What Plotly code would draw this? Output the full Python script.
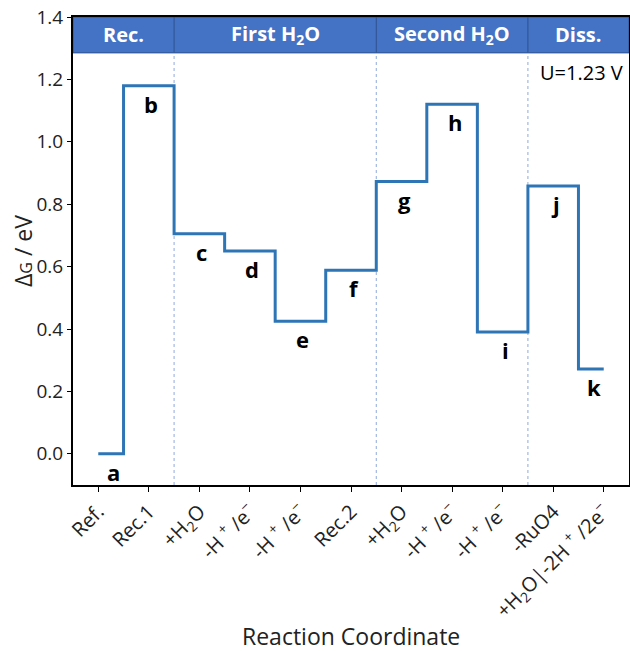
import plotly.graph_objects as go

# Free-energy levels along the reaction pathway (eV)
state_letters = ["a", "b", "c", "d", "e", "f", "g", "h", "i", "j", "k"]
delta_g = [0.0, 1.18, 0.705, 0.65, 0.425, 0.588, 0.873, 1.12, 0.39, 0.858, 0.272]
step_labels = [
    "Ref.",
    "Rec.1",
    "+H<sub>2</sub>O",
    "-H <sup>+</sup> /e<sup>−</sup>",
    "-H <sup>+</sup> /e<sup>−</sup>",
    "Rec.2",
    "+H<sub>2</sub>O",
    "-H <sup>+</sup> /e<sup>−</sup>",
    "-H <sup>+</sup> /e<sup>−</sup>",
    "-RuO4",
    "+H<sub>2</sub>O|-2H <sup>+</sup> /2e<sup>−</sup>",
]
stage_names = ["Rec.", "First H<sub>2</sub>O", "Second H<sub>2</sub>O", "Diss."]
stage_bounds = [-0.5, 1.5, 5.5, 8.5, 10.5]
potential_text = "U=1.23 V"

FONT = "Open Sans"
LINE_BLUE = "#2E75B6"
BAND_BLUE = "#4472C4"
BAND_EDGE = "#2F528F"
Y_MIN, Y_MAX = -0.1, 1.4
BAND_BOTTOM = 1.285

W, H = 630, 651
M_L, M_R, M_T, M_B = 73, 1, 17, 166
PLOT_W = W - M_L - M_R
PLOT_H = H - M_T - M_B

x_idx = list(range(len(delta_g)))

fig = go.Figure()
fig.add_trace(go.Scatter(
    x=x_idx, y=delta_g, mode="lines",
    line=dict(color=LINE_BLUE, width=3, shape="hvh"),
    hoverinfo="skip", showlegend=False,
))

shapes = []
# header band with the stage names
shapes.append(dict(type="rect", xref="x", yref="y", x0=stage_bounds[0], x1=stage_bounds[-1],
                   y0=BAND_BOTTOM, y1=Y_MAX, fillcolor=BAND_BLUE,
                   line=dict(color=BAND_EDGE, width=1), layer="below"))
for xb in stage_bounds[1:-1]:
    shapes.append(dict(type="line", xref="x", yref="y", x0=xb, x1=xb, y0=BAND_BOTTOM, y1=Y_MAX,
                       line=dict(color=BAND_EDGE, width=1)))
    shapes.append(dict(type="line", xref="x", yref="y", x0=xb, x1=xb, y0=Y_MIN, y1=BAND_BOTTOM,
                       line=dict(color="#8FAADC", width=1, dash="dot"), layer="below"))

annotations = []
for i, name in enumerate(stage_names):
    annotations.append(dict(x=(stage_bounds[i] + stage_bounds[i + 1]) / 2, y=(BAND_BOTTOM + Y_MAX) / 2,
                            xref="x", yref="y", text=name, showarrow=False,
                            xanchor="center", yanchor="middle",
                            font=dict(family=FONT, size=20, color="white", weight="bold")))

# state letters just under each level
n = len(delta_g)
for i, (letter, g) in enumerate(zip(state_letters, delta_g)):
    left = max(i - 0.5, 0)
    right = min(i + 0.5, n - 1)
    annotations.append(dict(x=(left + right) / 2 + 0.05, y=g - 0.058, xref="x", yref="y",
                            text=letter, showarrow=False, xanchor="center", yanchor="middle",
                            font=dict(family=FONT, size=22, color="black", weight="bold")))

annotations.append(dict(x=9.57, y=1.223, xref="x", yref="y", text=potential_text, showarrow=False,
                        xanchor="center", yanchor="middle",
                        font=dict(family=FONT, size=20, color="black")))

# axis titles, positioned in pixels relative to the plot area
annotations.append(dict(x=0.5, y=-(636 - (M_T + PLOT_H)) / PLOT_H, xref="paper", yref="paper",
                        text="Reaction Coordinate", showarrow=False,
                        xanchor="center", yanchor="middle",
                        font=dict(family=FONT, size=23, color="#222")))
annotations.append(dict(x=-(M_L - 23) / PLOT_W, y=0.5, xref="paper", yref="paper",
                        text="Δ<span style='font-size:16px'>G</span> / eV", textangle=-90,
                        showarrow=False, xanchor="center", yanchor="middle",
                        font=dict(family=FONT, size=23, color="#222")))

fig.update_layout(
    width=W, height=H,
    margin=dict(l=M_L, r=M_R, t=M_T, b=M_B),
    paper_bgcolor="white", plot_bgcolor="white",
    font=dict(family=FONT, color="#222"),
    shapes=shapes, annotations=annotations,
    xaxis=dict(range=[-0.5, 10.5], tickmode="array", tickvals=x_idx, ticktext=step_labels,
               tickangle=-45, tickfont=dict(size=20, color="#222"),
               showline=True, linecolor="black", linewidth=2, mirror=True,
               ticks="outside", ticklen=5, tickcolor="black", showgrid=False, zeroline=False,
               automargin=False),
    yaxis=dict(range=[Y_MIN, Y_MAX], tickmode="array", tickvals=[0, 0.2, 0.4, 0.6, 0.8, 1.0, 1.2, 1.4],
               tickformat=".1f", tickfont=dict(size=19, color="#222"),
               showline=True, linecolor="black", linewidth=2, mirror=True,
               ticks="outside", ticklen=4, tickcolor="black", showgrid=False, zeroline=False,
               automargin=False),
)

fig.write_html("out.html")
